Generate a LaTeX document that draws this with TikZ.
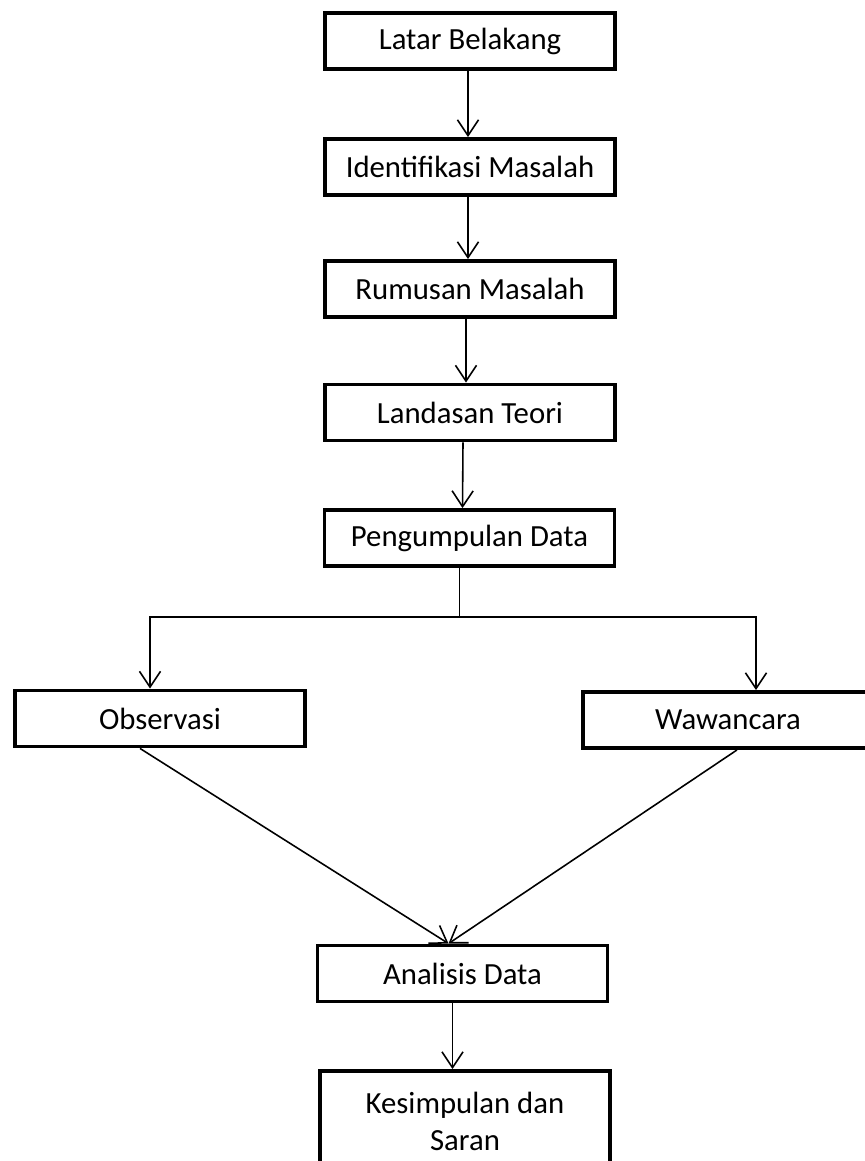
\documentclass[tikz,border=0pt]{standalone}
\usepackage{fontspec}
\setmainfont{Carlito}
\usetikzlibrary{positioning,arrows.meta}
\begin{document}
\begin{tikzpicture}[box/.style={draw, line width=2.2pt, minimum width=5.8cm,
          minimum height=1.12cm, inner sep=0pt, align=center,
          font=\fontsize{17.5}{21}\selectfont},
        arr/.style={-{Straight Barb[length=9pt,width=12pt]}, line width=0.9pt},
        line/.style={line width=0.9pt}]
    \useasboundingbox (0,0) rectangle (17.3,-23.22);
    \node[box] (latar) at (9.4,-0.82) {Latar Belakang};
    \node[box] (ident) at (9.4,-3.34) {Identifikasi Masalah};
    \node[box] (rumus) at (9.4,-5.78) {Rumusan Masalah};
    \node[box] (landas) at (9.4,-8.25) {Landasan Teori};
    \node[box] (kumpul) at (9.39,-10.76) {Pengumpulan Data};
    \node[box] (obs) at (3.2,-14.37) {Observasi};
    \node[box] (waw) at (14.56,-14.4) {Wawancara};
    \node[box] (anal) at (9.25,-19.47) {Analisis Data};
    \node[box, minimum height=2.0cm] (simpul) at (9.3,-22.42) {Kesimpulan dan\\Saran};
    % alur utama
    \draw[arr] ([xshift=-0.04cm]latar.south) -- ([xshift=-0.04cm]ident.north);
    \draw[arr] ([xshift=-0.04cm]ident.south) -- ([xshift=-0.04cm]rumus.north);
    \draw[arr] ([xshift=-0.08cm]rumus.south) -- ([xshift=-0.08cm]landas.north);
    \draw[arr] ([xshift=-0.14cm]landas.south) -- ([xshift=-0.14cm]kumpul.north);
    % cabang
    \draw[line] ([xshift=-0.2cm]kumpul.south) -- ++(0,-0.98) coordinate (split);
    \draw[arr] (split) -| ([xshift=-0.2cm]obs.north);
    \draw[arr] (split) -| ([xshift=0.56cm]waw.north);
    % gabung
    \draw[arr] ([xshift=-0.4cm]obs.south) -- ([xshift=-0.28cm]anal.north);
    \draw[arr] ([xshift=0.18cm]waw.south) -- ([xshift=-0.28cm]anal.north);
    \draw[arr] ([xshift=-0.2cm]anal.south) -- ([xshift=-0.2cm]anal.south |- simpul.north);
\end{tikzpicture}
\end{document}
